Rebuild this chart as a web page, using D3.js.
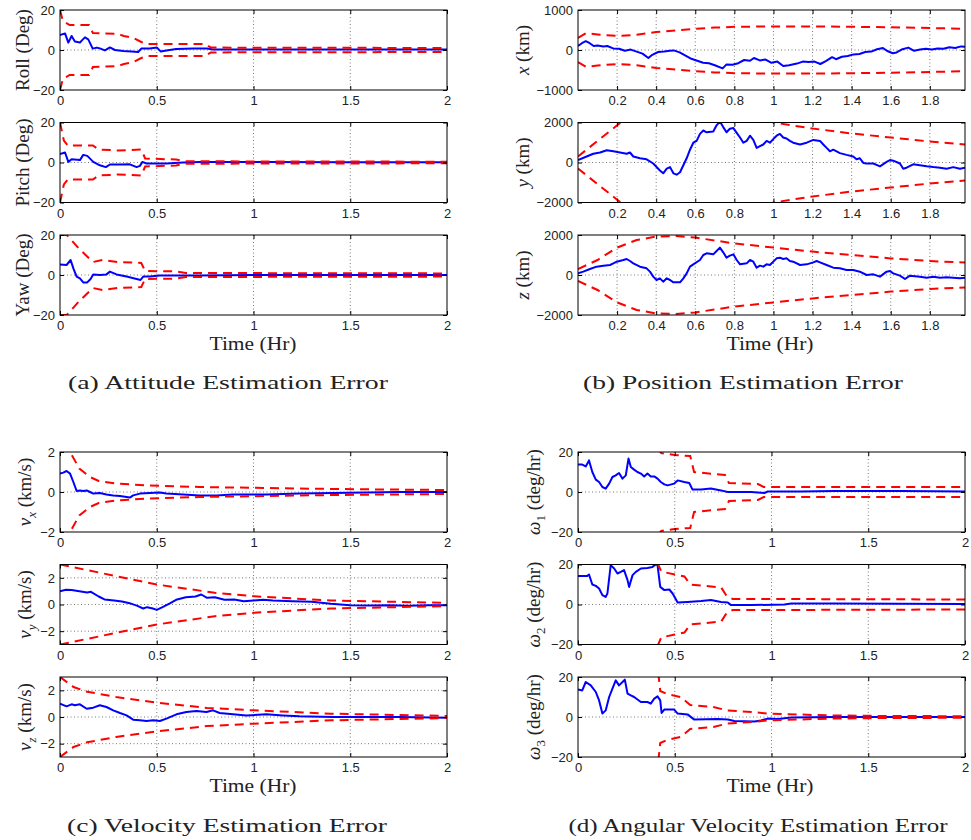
<!DOCTYPE html>
<html><head><meta charset="utf-8">
<script src="https://cdn.jsdelivr.net/npm/d3@7"></script>
<style>body{margin:0;background:#fff}</style>
</head><body>
<svg id="c" width="971" height="840"></svg>
<script>
// ---------- DATA: [time (Hr), value] ----------
const rollErr = [[0,7.5],[0.026,8.3],[0.043,3.7],[0.06,7],[0.077,4.2],[0.103,3.7],[0.112,4.7],[0.129,6.3],[0.146,5.3],[0.169,0.7],[0.19,1.2],[0.206,0.8],[0.232,-0.2],[0.258,1.3],[0.284,0],[0.327,-0.5],[0.37,-0.7],[0.404,-1],[0.42,0.7],[0.464,0.8],[0.5,1.3],[0.52,-0.7],[0.55,-0.2],[0.6,0.5],[0.69,0.7],[0.76,0.7],[0.79,0.2],[1,0.3],[1.24,0.2],[1.5,0.3],[2,0.3]];
const rollBound = [[0,20],[0.015,14.5],[0.05,12.5],[0.15,12.5],[0.17,8.5],[0.3,8],[0.33,7],[0.38,6],[0.42,4],[0.45,3],[0.75,3],[0.78,1.2],[2,1]];
const pitchErr = [[0,4.2],[0.026,5],[0.043,0.3],[0.06,1.6],[0.103,1.2],[0.12,3.8],[0.141,3.3],[0.172,0.3],[0.206,-1.4],[0.237,-2.3],[0.258,-1],[0.31,-1],[0.361,-0.9],[0.396,-2.3],[0.413,-1.7],[0.426,0.3],[0.447,-0.5],[0.55,-0.5],[0.636,0],[0.722,0.2],[0.894,0.3],[1.066,0.2],[1.5,0.1],[2,0.1]];
const pitchBound = [[0,20],[0.02,11],[0.04,8.5],[0.17,8.5],[0.2,6.5],[0.3,6],[0.42,6.5],[0.44,2],[0.6,1.5],[0.65,0.6],[2,0.4]];
const yawErr = [[0,5.3],[0.034,5],[0.055,7.5],[0.069,3.3],[0.086,-0.8],[0.103,-1.7],[0.12,-3.7],[0.141,-3.7],[0.158,-2],[0.172,0.3],[0.206,0],[0.24,0.3],[0.258,1.7],[0.292,0.3],[0.344,-0.8],[0.396,-2],[0.416,-2.5],[0.43,-0.8],[0.464,-0.8],[0.516,-0.3],[0.722,-0.3],[1,0],[2,0]];
const yawBound = [[0,20],[0.035,20],[0.1,13],[0.17,6.5],[0.22,7.5],[0.3,6.5],[0.42,6],[0.44,2],[0.6,1.8],[0.65,1],[2,0.8]];

const posXErr = [[0,100],[0.02,170],[0.04,220],[0.06,170],[0.08,100],[0.1,110],[0.13,90],[0.15,100],[0.18,40],[0.21,30],[0.24,-20],[0.27,10],[0.3,-40],[0.33,-90],[0.36,-200],[0.38,-120],[0.41,-50],[0.44,-40],[0.47,-20],[0.49,-10],[0.52,-60],[0.55,-140],[0.58,-220],[0.61,-270],[0.64,-320],[0.67,-330],[0.7,-380],[0.74,-460],[0.76,-360],[0.79,-370],[0.82,-330],[0.85,-250],[0.88,-270],[0.9,-200],[0.93,-260],[0.96,-240],[0.99,-320],[1.02,-290],[1.05,-400],[1.08,-380],[1.12,-340],[1.15,-290],[1.18,-300],[1.21,-290],[1.24,-350],[1.27,-270],[1.3,-180],[1.32,-230],[1.35,-170],[1.38,-150],[1.41,-110],[1.44,-100],[1.47,-50],[1.5,-40],[1.53,20],[1.56,50],[1.58,-20],[1.61,-80],[1.63,-60],[1.66,20],[1.69,60],[1.72,-20],[1.75,10],[1.78,30],[1.81,10],[1.84,40],[1.87,30],[1.9,70],[1.93,50],[1.96,90],[1.98,80]];
const posXBound = [[0,300],[0.04,420],[0.1,390],[0.2,350],[0.3,380],[0.4,450],[0.5,490],[0.6,530],[0.7,560],[0.8,580],[1.0,590],[1.2,590],[1.4,580],[1.6,570],[1.8,550],[1.98,530]];
const posYErr = [[0,120],[0.044,300],[0.078,435],[0.113,500],[0.147,610],[0.181,560],[0.215,500],[0.249,435],[0.266,500],[0.283,300],[0.317,210],[0.351,160],[0.385,-50],[0.419,-400],[0.436,-540],[0.454,-310],[0.471,-230],[0.488,-540],[0.505,-610],[0.522,-490],[0.539,-140],[0.556,210],[0.573,640],[0.59,990],[0.607,1080],[0.624,1430],[0.641,1600],[0.658,1510],[0.692,1550],[0.709,1860],[0.726,2050],[0.743,1770],[0.76,1510],[0.777,1690],[0.795,1720],[0.812,1480],[0.829,1250],[0.846,990],[0.863,1080],[0.88,1340],[0.897,1130],[0.914,730],[0.931,820],[0.948,900],[0.965,1080],[0.982,990],[0.999,1170],[1.016,1340],[1.033,1430],[1.05,1250],[1.067,1200],[1.084,1080],[1.101,990],[1.136,900],[1.17,990],[1.204,1130],[1.238,1080],[1.255,900],[1.272,730],[1.289,560],[1.306,640],[1.34,470],[1.374,380],[1.408,300],[1.425,160],[1.442,210],[1.46,-20],[1.477,-50],[1.511,-50],[1.545,-190],[1.579,35],[1.596,120],[1.613,90],[1.647,-50],[1.664,-310],[1.681,-260],[1.715,-90],[1.749,-140],[1.784,-190],[1.818,-230],[1.852,-260],[1.886,-310],[1.92,-230],[1.954,-310],[1.98,-260]];
const posYBound = [[0,300],[0.1,1080],[0.2,1860],[0.3,2600],[0.5,3300],[0.7,3000],[0.9,2400],[1.0,2000],[1.2,1700],[1.4,1450],[1.6,1250],[1.8,1050],[1.98,900]];
const posZErr = [[0,83],[0.027,167],[0.061,300],[0.095,417],[0.13,467],[0.164,500],[0.181,583],[0.198,667],[0.232,750],[0.249,800],[0.266,700],[0.283,583],[0.317,417],[0.351,333],[0.368,167],[0.385,-83],[0.402,-250],[0.419,-167],[0.436,-333],[0.454,-167],[0.471,-250],[0.488,-367],[0.522,-367],[0.539,-167],[0.556,83],[0.573,417],[0.59,533],[0.624,750],[0.641,1000],[0.658,1083],[0.692,1033],[0.709,1200],[0.726,1367],[0.743,1133],[0.76,867],[0.777,967],[0.795,1033],[0.812,750],[0.829,533],[0.863,583],[0.88,750],[0.897,667],[0.914,367],[0.931,467],[0.948,417],[0.965,533],[0.982,500],[1.016,833],[1.033,867],[1.05,800],[1.067,833],[1.084,700],[1.101,667],[1.136,500],[1.17,533],[1.204,633],[1.221,700],[1.238,633],[1.272,500],[1.306,367],[1.34,333],[1.374,250],[1.408,250],[1.442,167],[1.477,0],[1.511,33],[1.545,-83],[1.579,167],[1.596,200],[1.613,83],[1.647,-33],[1.673,-200],[1.698,-33],[1.749,-83],[1.784,-133],[1.818,-83],[1.852,-133],[1.886,-117],[1.92,-133],[1.954,-167],[1.98,-133]];
const posZBound = [[0,300],[0.1,750],[0.2,1370],[0.3,1750],[0.4,1920],[0.5,1950],[0.6,1870],[0.8,1580],[1.0,1370],[1.2,1170],[1.4,1000],[1.6,830],[1.8,700],[1.98,620]];

const velXErr = [[0,0.92],[0.017,0.97],[0.034,1.05],[0.052,0.92],[0.069,0.5],[0.086,0.05],[0.103,0.08],[0.12,0.05],[0.138,0.08],[0.155,0],[0.172,-0.08],[0.206,-0.05],[0.24,-0.12],[0.275,-0.17],[0.31,-0.2],[0.344,-0.25],[0.361,-0.28],[0.378,-0.17],[0.413,-0.08],[0.464,-0.05],[0.516,-0.03],[0.55,-0.08],[0.636,-0.12],[0.722,-0.17],[0.808,-0.17],[0.894,-0.12],[0.98,-0.12],[1.066,-0.12],[1.238,-0.08],[1.41,-0.05],[1.582,-0.03],[1.754,0],[2,0]];
const velXBound = [[0,4],[0.03,2.8],[0.052,2.0],[0.1,1.17],[0.155,0.75],[0.2,0.55],[0.29,0.42],[0.46,0.33],[0.72,0.25],[1.07,0.2],[1.41,0.15],[1.75,0.12],[2,0.1]];
const velYErr = [[0,1.0],[0.03,1.1],[0.06,1.08],[0.1,1.0],[0.14,0.9],[0.16,0.95],[0.2,0.6],[0.23,0.38],[0.28,0.3],[0.32,0.22],[0.36,0.1],[0.4,-0.1],[0.43,-0.3],[0.45,-0.2],[0.48,-0.3],[0.5,-0.4],[0.53,-0.2],[0.57,0.1],[0.6,0.35],[0.65,0.55],[0.7,0.6],[0.73,0.75],[0.76,0.5],[0.8,0.55],[0.85,0.35],[0.9,0.38],[0.95,0.25],[1.0,0.3],[1.05,0.35],[1.1,0.3],[1.2,0.25],[1.3,0.2],[1.4,0.05],[1.5,-0.05],[1.6,-0.08],[1.7,-0.05],[1.8,-0.1],[1.9,-0.05],[2.0,-0.05]];
const velYBound = [[0,3],[0.2,2.4],[0.5,1.5],[0.8,0.88],[1.0,0.62],[1.4,0.3],[2,0.12]];
const velZErr = [[0,1.0],[0.034,0.8],[0.06,0.95],[0.077,0.88],[0.103,0.95],[0.138,0.62],[0.172,0.7],[0.206,0.88],[0.24,0.75],[0.275,0.5],[0.31,0.3],[0.344,0.12],[0.378,-0.2],[0.413,-0.25],[0.447,-0.3],[0.482,-0.25],[0.516,-0.3],[0.55,-0.12],[0.602,0.2],[0.653,0.38],[0.705,0.45],[0.757,0.38],[0.791,0.5],[0.825,0.3],[0.894,0.2],[0.963,0.12],[1.066,0.2],[1.152,0.12],[1.238,0.05],[1.41,0],[1.582,0],[1.754,0],[2,-0.05]];
const velZBound = [[0,3],[0.07,2.25],[0.14,1.9],[0.29,1.5],[0.5,1.08],[0.76,0.68],[1.0,0.5],[1.4,0.25],[2,0.08]];

const w1Err = [[0,13.8],[0.022,13.7],[0.04,12.8],[0.057,15.8],[0.074,10],[0.092,6.2],[0.109,5],[0.126,2.5],[0.143,1.7],[0.161,4.2],[0.178,7.5],[0.195,8.3],[0.212,9.5],[0.23,6.7],[0.247,8.3],[0.261,16.7],[0.273,12.5],[0.29,11.2],[0.307,10],[0.325,9.2],[0.342,7.8],[0.359,9.2],[0.376,7.8],[0.394,7.8],[0.411,6.7],[0.428,5],[0.446,3.8],[0.463,3.3],[0.497,4.2],[0.515,5.8],[0.549,5],[0.575,4.5],[0.592,1.2],[0.636,1.2],[0.687,1.7],[0.739,0.8],[0.774,0],[0.808,0],[0.895,0],[0.964,-0.5],[0.981,0.3],[1.154,0.3],[1.326,0.5],[1.672,0.5],[2,0.3]];
const w1Bound = [[0.41,22],[0.43,19.5],[0.5,18.5],[0.58,18],[0.6,10],[0.76,8.5],[0.78,4.5],[0.93,4],[0.96,2.5],[2,2.5]];
const w2Err = [[0,14.3],[0.048,14.3],[0.057,15],[0.074,10],[0.092,9.3],[0.109,8],[0.126,4.7],[0.143,3.8],[0.152,5.5],[0.169,19.7],[0.187,18],[0.204,15.5],[0.221,16.3],[0.238,17.2],[0.256,12.2],[0.264,8.8],[0.282,14.7],[0.299,16.3],[0.325,18],[0.359,18.3],[0.385,18.8],[0.402,20],[0.411,19.7],[0.425,8.8],[0.446,7.2],[0.472,7.5],[0.489,5.5],[0.515,1],[0.566,1.3],[0.636,1.7],[0.687,2.2],[0.739,1.3],[0.774,1],[0.791,-0.3],[0.895,-0.3],[1.067,0],[1.102,0.5],[1.326,0.5],[2,0.2]];
const w2Bound = [[0.41,21],[0.43,16.5],[0.5,15],[0.55,14],[0.58,10],[0.74,8.5],[0.77,4],[0.8,2.8],[2,2.5]];
const w3Err = [[0,13.7],[0.022,13.3],[0.04,17.5],[0.066,15.8],[0.092,12.5],[0.109,8.3],[0.126,1.7],[0.143,3.3],[0.161,10],[0.178,14.2],[0.195,18.3],[0.212,15.8],[0.23,17.5],[0.242,18.7],[0.256,11.7],[0.273,10.8],[0.29,10],[0.325,7.5],[0.359,7.5],[0.376,6.7],[0.394,9.2],[0.411,10.3],[0.425,8.3],[0.432,2],[0.446,3.7],[0.497,3.7],[0.515,1.7],[0.566,1.3],[0.601,-1.3],[0.722,-1],[0.774,-1.3],[0.808,-2],[0.912,-2.2],[0.946,-1.7],[0.981,-0.8],[1.033,-1],[1.102,-0.3],[1.326,0],[2,0]];
const w3Bound = [[0.415,22],[0.425,13],[0.46,11.5],[0.53,10],[0.58,6],[0.7,5],[0.77,3.3],[0.9,2.5],[0.98,1.7],[1.3,0.8],[1.6,0.5],[2,0.4]];

const ticksA = [0, 0.5, 1, 1.5, 2];
const ticksB = [0.2, 0.4, 0.6, 0.8, 1, 1.2, 1.4, 1.6, 1.8];
const yT20 = [-20, 0, 20];
const yT1000 = [-1000, 0, 1000];
const yT2000 = [-2000, 0, 2000];
const yT2 = [-2, 0, 2];
const captions = ["(a) Attitude Estimation Error", "(b) Position Estimation Error", "(c) Velocity Estimation Error", "(d) Angular Velocity Estimation Error"];
const xTitle = "Time (Hr)";

// ---------- LAYOUT ----------
const svg = d3.select('#c');
const defs = svg.append('defs');
const fmt = d => (d < 0 ? '\u2212' + Math.abs(d) : String(d));
const SERIF = "'Liberation Serif','Times New Roman',serif";
const SANS = "'Liberation Sans',Arial,Helvetica,sans-serif";
const H = 80;
const L = {a: [60, 447], b: [578, 965]};

const panels = [
  {err: rollErr, bnd: rollBound, xr: L.a, top: 10, yDom: [-20, 20], yT: yT20, xDom: [0, 2], xT: ticksA, lab: [['Roll (Deg)']], lx: 28.5},
  {err: pitchErr, bnd: pitchBound, xr: L.a, top: 122.5, yDom: [-20, 20], yT: yT20, xDom: [0, 2], xT: ticksA, lab: [['Pitch (Deg)']], lx: 28.5},
  {err: yawErr, bnd: yawBound, xr: L.a, top: 235, yDom: [-20, 20], yT: yT20, xDom: [0, 2], xT: ticksA, lab: [['Yaw (Deg)']], lx: 28.5},
  {err: posXErr, bnd: posXBound, xr: L.b, top: 10, yDom: [-1000, 1000], yT: yT1000, xDom: [0, 1.98], xT: ticksB, lab: [['x', 'i'], [' (km)']], lx: 529},
  {err: posYErr, bnd: posYBound, xr: L.b, top: 122.5, yDom: [-2000, 2000], yT: yT2000, xDom: [0, 1.98], xT: ticksB, lab: [['y', 'i'], [' (km)']], lx: 529},
  {err: posZErr, bnd: posZBound, xr: L.b, top: 235, yDom: [-2000, 2000], yT: yT2000, xDom: [0, 1.98], xT: ticksB, lab: [['z', 'i'], [' (km)']], lx: 529},
  {err: velXErr, bnd: velXBound, xr: L.a, top: 452, yDom: [-2, 2], yT: yT2, xDom: [0, 2], xT: ticksA, lab: [['v', 'i'], ['x', 'is'], [' (km/s)']], lx: 31},
  {err: velYErr, bnd: velYBound, xr: L.a, top: 564.5, yDom: [-3, 3], yT: yT2, xDom: [0, 2], xT: ticksA, lab: [['v', 'i'], ['y', 'is'], [' (km/s)']], lx: 31},
  {err: velZErr, bnd: velZBound, xr: L.a, top: 677, yDom: [-3, 3], yT: yT2, xDom: [0, 2], xT: ticksA, lab: [['v', 'i'], ['z', 'is'], [' (km/s)']], lx: 31},
  {err: w1Err, bnd: w1Bound, xr: L.b, top: 452, yDom: [-20, 20], yT: yT20, xDom: [0, 2], xT: ticksA, lab: [['\u03c9', 'i'], ['1', 's'], [' (deg/hr)']], lx: 540},
  {err: w2Err, bnd: w2Bound, xr: L.b, top: 564.5, yDom: [-20, 20], yT: yT20, xDom: [0, 2], xT: ticksA, lab: [['\u03c9', 'i'], ['2', 's'], [' (deg/hr)']], lx: 540},
  {err: w3Err, bnd: w3Bound, xr: L.b, top: 677, yDom: [-20, 20], yT: yT20, xDom: [0, 2], xT: ticksA, lab: [['\u03c9', 'i'], ['3', 's'], [' (deg/hr)']], lx: 540},
];

panels.forEach((p, i) => {
  const x = d3.scaleLinear().domain(p.xDom).range(p.xr);
  const y = d3.scaleLinear().domain(p.yDom).range([p.top + H, p.top]);
  const g = svg.append('g');
  const cid = 'clip' + i;
  defs.append('clipPath').attr('id', cid).append('rect')
    .attr('x', p.xr[0]).attr('y', p.top).attr('width', p.xr[1] - p.xr[0]).attr('height', H);

  // grid
  g.selectAll('line.vg').data(p.xT.filter(t => t > p.xDom[0] && t < p.xDom[1])).join('line')
    .attr('x1', d => x(d)).attr('x2', d => x(d)).attr('y1', p.top).attr('y2', p.top + H)
    .attr('stroke', '#555').attr('stroke-width', 0.8).attr('stroke-dasharray', '1,2.5');
  g.selectAll('line.hg').data(p.yT.filter(t => t > p.yDom[0] && t < p.yDom[1])).join('line')
    .attr('x1', p.xr[0]).attr('x2', p.xr[1]).attr('y1', d => y(d)).attr('y2', d => y(d))
    .attr('stroke', '#555').attr('stroke-width', 0.8).attr('stroke-dasharray', '1,2.5');

  // series
  const lineP = d3.line().x(d => x(d[0])).y(d => y(d[1]));
  const lineN = d3.line().x(d => x(d[0])).y(d => y(-d[1]));
  const cg = g.append('g').attr('clip-path', `url(#${cid})`);
  cg.append('path').datum(p.err).attr('d', lineP).attr('fill', 'none')
    .attr('stroke', '#0000ff').attr('stroke-width', 2).attr('stroke-linejoin', 'round');
  [lineP, lineN].forEach(l => cg.append('path').datum(p.bnd).attr('d', l).attr('fill', 'none')
    .attr('stroke', '#ff0000').attr('stroke-width', 2).attr('stroke-dasharray', '9,6'));

  // axes
  const style = s => s.attr('font-family', SANS).attr('font-size', 13).attr('color', '#000')
    .call(s => s.select('.domain').remove()).call(s => s.selectAll('text').attr('fill', '#222'));
  g.append('g').attr('transform', `translate(0,${p.top + H})`)
    .call(d3.axisBottom(x).tickValues(p.xT).tickSize(-4).tickPadding(6).tickFormat(fmt)).call(style);
  g.append('g').attr('transform', `translate(${p.xr[0]},0)`)
    .call(d3.axisLeft(y).tickValues(p.yT).tickSize(-4).tickPadding(5).tickFormat(fmt)).call(style);
  g.append('g').attr('transform', `translate(0,${p.top})`)
    .call(d3.axisTop(x).tickValues(p.xT).tickSize(-4).tickFormat('')).call(style);
  g.append('g').attr('transform', `translate(${p.xr[1]},0)`)
    .call(d3.axisRight(y).tickValues(p.yT).tickSize(-4).tickFormat('')).call(style);

  g.append('rect').attr('x', p.xr[0]).attr('y', p.top).attr('width', p.xr[1] - p.xr[0]).attr('height', H)
    .attr('fill', 'none').attr('stroke', '#000').attr('stroke-width', 1);

  // y label
  const cy = p.top + H / 2;
  const t = svg.append('text').attr('transform', `translate(${p.lx},${cy}) rotate(-90)`)
    .attr('text-anchor', 'middle').attr('font-family', SERIF).attr('font-size', 19).attr('fill', '#222');
  let shift = 0;
  p.lab.forEach(([s, k]) => {
    const ts = t.append('tspan').text(s);
    if (k && k.includes('i')) ts.attr('font-style', 'italic');
    if (k && k.includes('s')) { ts.attr('font-size', 13).attr('dy', 5); shift = 5; }
    else if (shift) { ts.attr('dy', -shift); shift = 0; }
  });
});

// x titles and captions
const xt = [[253, 350], [770, 350], [253, 792], [770, 792]];
xt.forEach(([cx, by]) => svg.append('text').attr('x', cx).attr('y', by).attr('text-anchor', 'middle')
  .attr('font-family', SERIF).attr('font-size', 18).attr('fill', '#222')
  .attr('textLength', 87).attr('lengthAdjust', 'spacingAndGlyphs').text(xTitle));
const cp = [[228, 389, 320], [743, 389, 320], [227, 832, 320], [758, 832, 379]];
cp.forEach(([cx, by, w], i) => svg.append('text').attr('x', cx).attr('y', by).attr('text-anchor', 'middle')
  .attr('font-family', SERIF).attr('font-size', 19).attr('fill', '#222')
  .attr('textLength', w).attr('lengthAdjust', 'spacingAndGlyphs').text(captions[i]));
</script>
</body></html>
